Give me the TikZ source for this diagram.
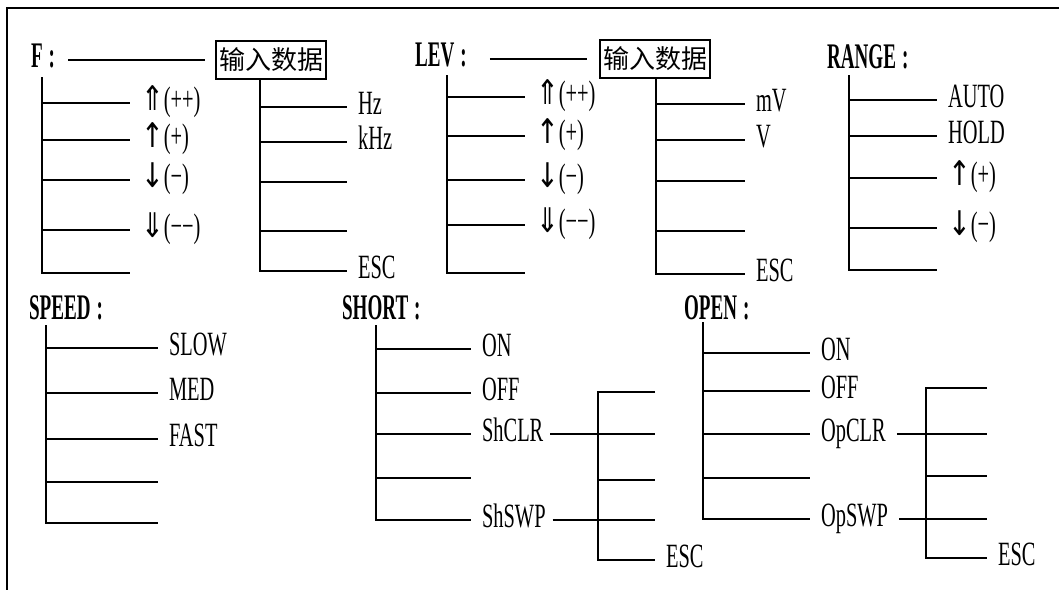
\documentclass[tikz,border=0pt]{standalone}
\usepackage{fontspec}
\setmainfont{Liberation Serif}[FakeStretch=0.6, BoldFeatures={FakeStretch=0.53}]
\newfontfamily\cjk{Noto Sans CJK SC}
\newfontfamily\arr[FakeStretch=0.8]{DejaVu Sans}
\usetikzlibrary{positioning}

\begin{document}
\begin{tikzpicture}[x=1pt, y=-1pt, line width=2.2pt,
  lbl/.style={anchor=west, inner xsep=10pt, inner ysep=0pt, text height=18pt, text depth=4pt, font=\fontsize{34}{38}\selectfont},
  head/.style={anchor=west, inner sep=0pt, text height=18pt, text depth=4pt, font=\fontsize{36}{40}\selectfont\bfseries},
  box/.style={draw, inner xsep=3pt, inner ysep=0pt, minimum height=38pt, font=\cjk\fontsize{26}{30}\selectfont}]
  \useasboundingbox (0,0) rectangle (1059,590);
  \draw[line width=2.6pt] (1059,8) -- (7,8) -- (7,590);

  % F
  \node[head] (F) at (30,60) {F\hspace{6pt}:};
  \node[box] (Fin) at (271,60) {输入数据};
  \draw[shorten <=12pt, shorten >=10pt] (F) -- (Fin);
  \coordinate (Fv) at (42,77);
  \node[lbl] (F1) at (130,103) {{\arr ⇑}(++)};
  \node[lbl] (F2) at (130,140) {{\arr ↑}(+)};
  \node[lbl] (F3) at (130,180) {{\arr ↓}(−)};
  \node[lbl] (F4) at (130,230) {{\arr ⇓}(−−)};
  \node[lbl] (F5) at (130,273) {};
  \draw (Fv) -- (Fv |- F5.west) -- (F5.west)
        (Fv |- F1.west) -- (F1.west)
        (Fv |- F2.west) -- (F2.west)
        (Fv |- F3.west) -- (F3.west)
        (Fv |- F4.west) -- (F4.west);
  \coordinate (Hv) at (260,79);
  \node[lbl] (H1) at (347,107) {Hz};
  \node[lbl] (H2) at (347,142) {kHz};
  \node[lbl] (H3) at (347,182) {};
  \node[lbl] (H4) at (347,231) {};
  \node[lbl] (H5) at (347,271) {ESC};
  \draw (Hv) -- (Hv |- H5.west) -- (H5.west)
        (Hv |- H1.west) -- (H1.west)
        (Hv |- H2.west) -- (H2.west)
        (Hv |- H3.west) -- (H3.west)
        (Hv |- H4.west) -- (H4.west);

  % LEV
  \node[head] (LEV) at (414,59) {LEV\hspace{6pt}:};
  \node[box] (Lin) at (655,59) {输入数据};
  \draw[shorten <=22pt, shorten >=12pt] (LEV) -- (Lin);
  \coordinate (Lv) at (447,75);
  \node[lbl] (L1) at (525,97) {{\arr ⇑}(++)};
  \node[lbl] (L2) at (525,136) {{\arr ↑}(+)};
  \node[lbl] (L3) at (525,180) {{\arr ↓}(−)};
  \node[lbl] (L4) at (525,225) {{\arr ⇓}(−−)};
  \node[lbl] (L5) at (525,273) {};
  \draw (Lv) -- (Lv |- L5.west) -- (L5.west)
        (Lv |- L1.west) -- (L1.west)
        (Lv |- L2.west) -- (L2.west)
        (Lv |- L3.west) -- (L3.west)
        (Lv |- L4.west) -- (L4.west);
  \coordinate (Mv) at (656,78);
  \node[lbl] (M1) at (745,104) {mV};
  \node[lbl] (M2) at (745,140) {V};
  \node[lbl] (M3) at (745,181) {};
  \node[lbl] (M4) at (745,231) {};
  \node[lbl] (M5) at (745,274) {ESC};
  \draw (Mv) -- (Mv |- M5.west) -- (M5.west)
        (Mv |- M1.west) -- (M1.west)
        (Mv |- M2.west) -- (M2.west)
        (Mv |- M3.west) -- (M3.west)
        (Mv |- M4.west) -- (M4.west);

  % RANGE
  \node[head] (RANGE) at (826,61) {RANGE\hspace{6pt}:};
  \coordinate (Rv) at (849,75);
  \node[lbl] (R1) at (937,100) {AUTO};
  \node[lbl] (R2) at (937,136) {HOLD};
  \node[lbl] (R3) at (937,178) {{\arr ↑}(+)};
  \node[lbl] (R4) at (937,228) {{\arr ↓}(−)};
  \node[lbl] (R5) at (937,270) {};
  \draw (Rv) -- (Rv |- R5.west) -- (R5.west)
        (Rv |- R1.west) -- (R1.west)
        (Rv |- R2.west) -- (R2.west)
        (Rv |- R3.west) -- (R3.west)
        (Rv |- R4.west) -- (R4.west);

  % SPEED
  \node[head] (SPEED) at (28,312) {SPEED\hspace{6pt}:};
  \coordinate (Pv) at (46,325);
  \node[lbl] (P1) at (158,348) {SLOW};
  \node[lbl] (P2) at (158,393) {MED};
  \node[lbl] (P3) at (158,439) {FAST};
  \node[lbl] (P4) at (158,482) {};
  \node[lbl] (P5) at (158,523) {};
  \draw (Pv) -- (Pv |- P5.west) -- (P5.west)
        (Pv |- P1.west) -- (P1.west)
        (Pv |- P2.west) -- (P2.west)
        (Pv |- P3.west) -- (P3.west)
        (Pv |- P4.west) -- (P4.west);

  % SHORT
  \node[head] (SHORT) at (341,312) {SHORT\hspace{6pt}:};
  \coordinate (Sv) at (376,325);
  \node[lbl] (S1) at (471,349) {ON};
  \node[lbl] (S2) at (471,393) {OFF};
  \node[lbl] (S3) at (471,434) {ShCLR};
  \node[lbl] (S4) at (471,478) {};
  \node[lbl] (S5) at (471,520) {ShSWP};
  \draw (Sv) -- (Sv |- S5.west) -- (S5.west)
        (Sv |- S1.west) -- (S1.west)
        (Sv |- S2.west) -- (S2.west)
        (Sv |- S3.west) -- (S3.west)
        (Sv |- S4.west) -- (S4.west);
  \coordinate (Cv) at (598,392);
  \node[lbl] (C1) at (655,392) {};
  \node[lbl] (C2) at (655,434) {};
  \node[lbl] (C3) at (655,480) {};
  \node[lbl] (C4) at (655,520) {};
  \node[lbl] (C5) at (655,560) {ESC};
  \draw (C1.west) -- (Cv) -- (Cv |- C5.west) -- (C5.west)
        (Cv |- C3.west) -- (C3.west);
  \draw[shorten <=-4pt] (S3.east) -- (C2.west);
  \draw[shorten <=-4pt] (S5.east) -- (C4.west);

  % OPEN
  \node[head] (OPEN) at (683,312) {OPEN\hspace{6pt}:};
  \coordinate (Ov) at (703,322);
  \node[lbl] (O1) at (810,353) {ON};
  \node[lbl] (O2) at (810,391) {OFF};
  \node[lbl] (O3) at (810,434) {OpCLR};
  \node[lbl] (O4) at (810,478) {};
  \node[lbl] (O5) at (810,519) {OpSWP};
  \draw (Ov) -- (Ov |- O5.west) -- (O5.west)
        (Ov |- O1.west) -- (O1.west)
        (Ov |- O2.west) -- (O2.west)
        (Ov |- O3.west) -- (O3.west)
        (Ov |- O4.west) -- (O4.west);
  \coordinate (Dv) at (926,388);
  \node[lbl] (D1) at (987,388) {};
  \node[lbl] (D2) at (987,434) {};
  \node[lbl] (D3) at (987,476) {};
  \node[lbl] (D4) at (987,519) {};
  \node[lbl] (D5) at (987,558) {ESC};
  \draw (D1.west) -- (Dv) -- (Dv |- D5.west) -- (D5.west)
        (Dv |- D3.west) -- (D3.west);
  \draw (O3.east) -- (D2.west);
  \draw (O5.east) -- (D4.west);
\end{tikzpicture}
\end{document}
